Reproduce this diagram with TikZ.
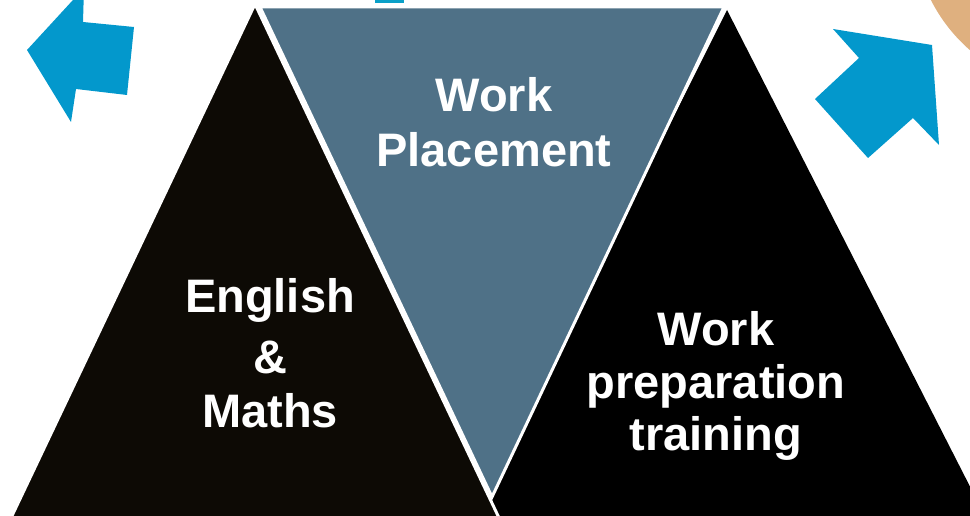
\documentclass[tikz,border=0pt]{standalone}
\usepackage{fontspec}
\setmainfont{Liberation Sans}
\definecolor{darkbrown}{HTML}{0D0A05}
\definecolor{slateblue}{HTML}{4F7187}
\definecolor{arrowblue}{HTML}{0398CC}
\definecolor{tabblue}{HTML}{0AA0C8}
\definecolor{peach}{HTML}{DFB07F}
\tikzset{
  lbl/.style={text=white, font=\fontsize{47}{55}\selectfont\bfseries, anchor=base, inner sep=0pt},
  tri/.style={draw=white, line width=3pt, line join=miter}
}
\begin{document}
\begin{tikzpicture}[x=1pt,y=-1pt]
\useasboundingbox (0,0) rectangle (970,516);
\clip (0,0) rectangle (970,516);
% background decorations
\fill[peach] (1079,-75) circle (166);
\fill[tabblue] (375,-2) rectangle (404,3);
\fill[arrowblue] (27,50) -- (84,-12) -- (83,22) -- (134,27) -- (127,95) -- (76,89) -- (71,122) -- cycle;
\fill[arrowblue] (932,45) -- (833,29) -- (859,58) -- (815,99) -- (868,158) -- (913,118) -- (939,145) -- cycle;
% triangles
\fill[black] (727,10) -- (985,516) -- (474,516) -- cycle;
\filldraw[tri, fill=slateblue] (260,7) -- (724,7) -- (492,497) -- cycle;
\filldraw[tri, fill=darkbrown] (255,4) -- (500,520) -- (10,520) -- cycle;
% texts
\node[lbl] (wp1) at (494,112) {Work};
\node[lbl] (wp2) at (494,167) {Placement};
\node[lbl] (em1) at (270,312) {English};
\node[lbl] (em2) at (270,373) {\&};
\node[lbl] (em3) at (270,427) {Maths};
\node[lbl] (pt1) at (716,345) {Work};
\node[lbl] (pt2) at (716,398) {preparation};
\node[lbl] (pt3) at (716,450) {training};
\end{tikzpicture}
\end{document}
